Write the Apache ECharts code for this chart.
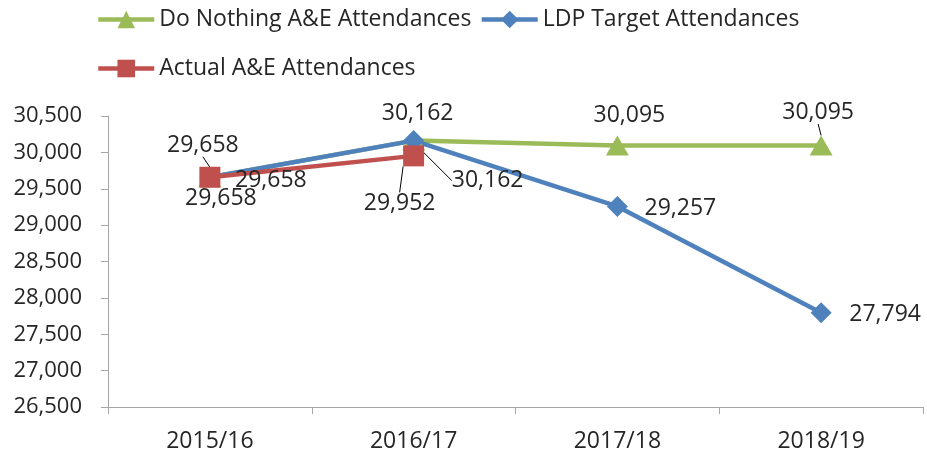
<!DOCTYPE html>
<html>
<head>
<meta charset="utf-8">
<script src="https://cdn.jsdelivr.net/npm/echarts@6/dist/echarts.min.js"></script>
<style>
  html, body { margin: 0; padding: 0; background: #fff; }
  #chart { width: 927px; height: 457px; }
</style>
</head>
<body>
<div id="chart"></div>
<script>
// data
const years = ["2015/16", "2016/17", "2017/18", "2018/19"];
const doNothing = [29658, 30162, 30095, 30095];
const ldpTarget = [29658, 30162, 29257, 27794];
const actual = [29658, 29952, null, null];

const FONT = "Open Sans";
const TXT = "#262626";

const chart = echarts.init(document.getElementById("chart"));

const fmt = (v) => Number(v).toLocaleString("en-GB");

// label nudges per point, like the hand-dragged Excel labels
const nudges = {
  "Do Nothing A&E Attendances": [[-7, -32], [4, -27], [12, -30], [-3, -33]],
  "LDP Target Attendances": [[61, 3], [74, 40], [63, 2], [64, 2]],
  "Actual A&E Attendances": [[11, 21], [-14, 48], [0, 0], [0, 0]],
};
const leaders = {
  "Do Nothing A&E Attendances": [true, false, false, true],
  "LDP Target Attendances": [false, true, false, false],
  "Actual A&E Attendances": [false, true, false, false],
};

function makeSeries(name, values, color, symbol, size) {
  return {
    name,
    type: "line",
    data: values.map((v, i) => ({
      value: v,
      labelLine: { show: leaders[name][i], lineStyle: { color: "#000", width: 1 } },
    })),
    color,
    symbol,
    symbolSize: size,
    showAllSymbol: true,
    connectNulls: false,
    lineStyle: { width: 4.5, color },
    itemStyle: { color },
    label: {
      show: true,
      position: "inside",
      formatter: (p) => fmt(p.value),
      fontFamily: FONT,
      fontSize: 23,
      color: TXT,
    },
    labelLayout: (p) => {
      const d = nudges[name][p.dataIndex];
      return { dx: d[0], dy: d[1] };
    },
    emphasis: { disabled: true },
  };
}

const legendText = { fontFamily: FONT, fontSize: 23, color: TXT };

const option = {
  backgroundColor: "#fff",
  animation: false,
  textStyle: { fontFamily: FONT },
  legend: [
    {
      data: ["Do Nothing A&E Attendances", "LDP Target Attendances"],
      left: 96,
      top: 8,
      padding: 0,
      itemWidth: 56,
      itemHeight: 22,
      itemGap: 8,
      lineStyle: { width: 4.5 },
      textStyle: legendText,
    },
    {
      data: ["Actual A&E Attendances"],
      left: 96,
      top: 57,
      padding: 0,
      itemWidth: 56,
      itemHeight: 22,
      lineStyle: { width: 4.5 },
      textStyle: legendText,
    },
  ],
  grid: { left: 108, right: 4, top: 116, bottom: 50, containLabel: false },
  xAxis: {
    type: "category",
    data: years,
    boundaryGap: true,
    axisLine: { lineStyle: { color: "#a6a6a6", width: 1 } },
    axisTick: { show: true, length: 7, lineStyle: { color: "#a6a6a6" } },
    axisLabel: { fontFamily: FONT, fontSize: 23, color: TXT, margin: 23 },
  },
  yAxis: {
    type: "value",
    min: 26500,
    max: 30500,
    interval: 500,
    axisLine: { show: true, lineStyle: { color: "#a6a6a6", width: 1 } },
    axisTick: { show: true, length: 7, lineStyle: { color: "#a6a6a6" } },
    splitLine: { show: false },
    axisLabel: { fontFamily: FONT, fontSize: 22, color: TXT, margin: 26, formatter: fmt },
  },
  series: [
    makeSeries("Do Nothing A&E Attendances", doNothing, "#9bbb59", "triangle", [23, 20]),
    makeSeries("LDP Target Attendances", ldpTarget, "#4f81bd", "diamond", 21),
    makeSeries("Actual A&E Attendances", actual, "#c0504d", "rect", 21),
  ],
};

chart.setOption(option);
window.addEventListener("resize", () => chart.resize());
</script>
</body>
</html>
